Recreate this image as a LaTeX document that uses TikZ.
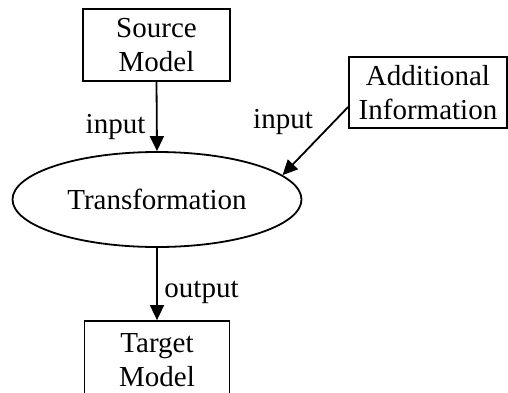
\documentclass[tikz,border=0pt]{standalone}
\usepackage{fontspec}
\setmainfont{Liberation Serif}
\usetikzlibrary{shapes.geometric,arrows.meta,calc}
\begin{document}
\begin{tikzpicture}[x=1pt,y=-1pt,
  every node/.style={font=\fontsize{29}{33.5}\selectfont},
  box/.style={draw,line width=1.8pt,rectangle,inner sep=0pt,align=center},
  oval/.style={draw,line width=1.8pt,ellipse,inner sep=0pt,minimum width=289pt,minimum height=95pt},
  lbl/.style={anchor=base,inner sep=0pt},
  conn/.style={line width=1.8pt,-{Triangle[length=15pt,width=14pt]}}]
\useasboundingbox (0,0) rectangle (508,392);
\clip (0,0) rectangle (508,392);
\node[box,minimum width=147pt,minimum height=72pt] (src) at (156.5,45) {Source\\Model};
\node[box,minimum width=158pt,minimum height=71pt] (add) at (428,92.5) {Additional\\Information};
\node[oval] (tr) at (157,199.5) {Transformation};
\node[box,minimum width=145pt,minimum height=78pt] (tgt) at (157,360) {Target\\Model};
\coordinate (addout) at ($(add.west)+(0,14.5)$);
\draw[conn] (src.south) -- (tr.north);
\draw[conn] (addout) -- (tr.11);
\draw[conn] (tr.south) -- (tgt.north);
\node[lbl] (l1) at (115.5,133) {input};
\node[lbl] (l2) at (283,128) {input};
\node[lbl] (l3) at (201.5,297) {output};
\end{tikzpicture}
\end{document}
